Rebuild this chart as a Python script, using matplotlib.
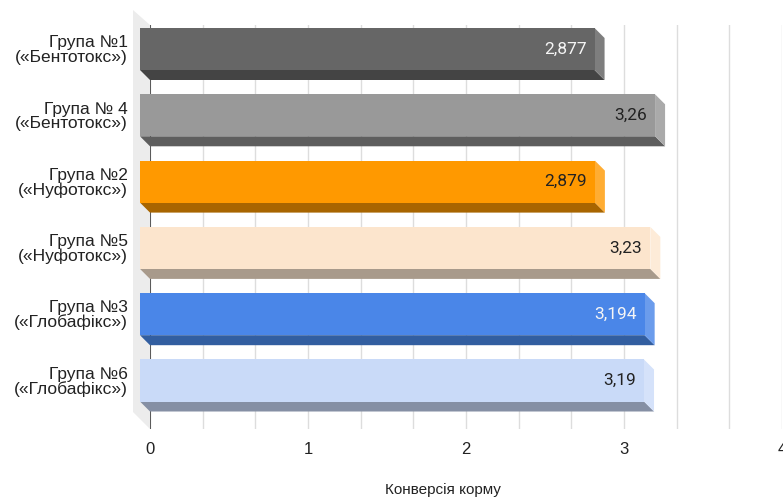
import numpy as np
import matplotlib
matplotlib.use('Agg')
import matplotlib.pyplot as plt
from matplotlib.patches import Polygon

plt.rcParams['font.family'] = ['Liberation Sans', 'DejaVu Sans']

# chart data
groups = ['Група №1\n(«Бентотокс»)', 'Група № 4\n(«Бентотокс»)',
          'Група №2\n(«Нуфотокс»)', 'Група №5\n(«Нуфотокс»)',
          'Група №3\n(«Глобафікс»)', 'Група №6\n(«Глобафікс»)']
values = [2.877, 3.26, 2.879, 3.23, 3.194, 3.19]
value_labels = ['2,877', '3,26', '2,879', '3,23', '3,194', '3,19']
x_ticks = [0, 1, 2, 3, 4]

# colours: front face, bottom face, side face, label
front_colors = ['#666666', '#999999', '#ff9900', '#fce5cd', '#4a86e8', '#c9daf8']
bottom_colors = ['#444444', '#5e5e5e', '#a86500', '#a89a8b', '#325ea0', '#858fa4']
side_colors = ['#7e7e7e', '#aaaaaa', '#ffad33', '#fdebd8', '#6b9cec', '#d5e2fa']
text_colors = ['#f5f5f5', '#222222', '#222222', '#222222', '#f5f5f5', '#222222']

W, H = 783, 499
fig = plt.figure(figsize=(W / 100, H / 100), dpi=100)
ax_left, ax_right, ax_top, ax_bot = 150, 782, 25, 429
ax = fig.add_axes([ax_left / W, 1 - ax_bot / H, (ax_right - ax_left) / W, (ax_bot - ax_top) / H])

band = 66.3   # px per category
first = 59    # px centre of first bar (back face)
ax.set_xlim(0, 4)
ax.set_ylim((ax_bot - first) / band, (ax_top - first) / band)

# 3d depth, 10 px each way, in data units
px_x = (ax_right - ax_left) / 4
dx = 10 / px_x
dy = 10 / band
h = 42 / band

y = np.arange(len(values))

# left wall
wall_x = -17 / px_x
wall = Polygon([(wall_x, (10 - first) / band), (0, (ax_top - first) / band),
                (0, (ax_bot - first) / band), (wall_x, (412 - first) / band)],
               closed=True, facecolor='#ececec', edgecolor='none',
               clip_on=False, zorder=0)
ax.add_patch(wall)

# grid every third of a unit
ax.set_xticks(np.arange(0, 4.001, 1 / 3), minor=True)
ax.set_xticks(x_ticks)
ax.grid(True, axis='x', which='both', color='#dddddd', linewidth=1, zorder=1)
ax.axvline(0, color='#4d4d4d', linewidth=1.3, zorder=2)

for i, v in enumerate(values):
    yb_back = i + h / 2
    yt_back = i - h / 2
    yb_front = yb_back - dy
    yt_front = yt_back - dy
    bottom = Polygon([(-dx, yb_front), (v - dx, yb_front), (v, yb_back), (0, yb_back)],
                     closed=True, facecolor=bottom_colors[i], edgecolor='none',
                     clip_on=False, zorder=3)
    side = Polygon([(v - dx, yt_front), (v, yt_back), (v, yb_back), (v - dx, yb_front)],
                   closed=True, facecolor=side_colors[i], edgecolor='none', zorder=3)
    ax.add_patch(bottom)
    ax.add_patch(side)

bars = ax.barh(y - dy, values, left=-dx, height=h, color=front_colors, zorder=4)
for b in bars:
    b.set_clip_on(False)

for i, v in enumerate(values):
    ax.annotate(value_labels[i], xy=(v - dx, i - dy), xytext=(-8, 0),
                textcoords='offset pixels', ha='right', va='center',
                fontsize=12.5, family='Roboto', color=text_colors[i], zorder=5)

ax.set_yticks(y - dy)
ax.set_yticklabels(groups, fontsize=12.5, color='#222222', linespacing=0.95)
ax.set_xticklabels([str(t) for t in x_ticks], fontsize=12, color='#222222')
ax.tick_params(axis='y', length=0, pad=16)
ax.tick_params(axis='x', which='both', length=0, pad=9)
for s in ax.spines.values():
    s.set_visible(False)

fig.text(443 / W, 1 - 490 / H, 'Конверсія корму', ha='center', va='center',
         fontsize=11, color='#222222')

fig.savefig('out.png', dpi=100)
